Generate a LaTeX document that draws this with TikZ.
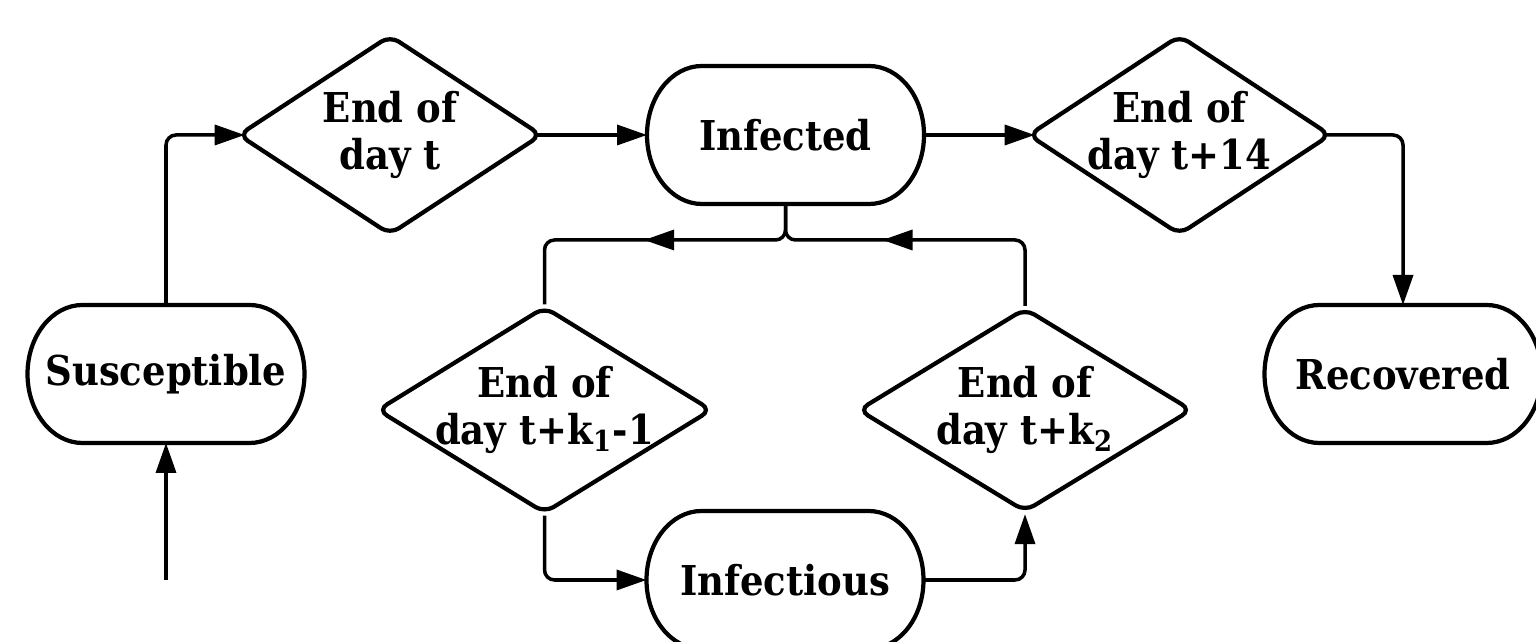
\documentclass[tikz,border=0pt]{standalone}
\usepackage{fontspec}
\setmainfont{DejaVu Serif Condensed}
\usetikzlibrary{shapes.geometric,arrows.meta,decorations.markings,calc}
\begin{document}
\begin{tikzpicture}[y=-1cm,>={Triangle[length=3mm,width=2mm]},
  state/.style={outer sep=0pt,minimum width=2.77cm,minimum height=1.38cm,font=\fontsize{11.7}{13.6}\selectfont\bfseries},
  box/.style={line width=1.2pt},
  check/.style={draw,diamond,line width=1.2pt,rounded corners=3pt,inner xsep=-0.25cm,inner ysep=-0.25cm,align=center,font=\fontsize{11.7}{13.6}\selectfont\bfseries},
  line/.style={line width=1pt,rounded corners=0.1cm},
  midarr/.style={postaction={decorate},decoration={markings,mark=at position #1 with {\arrow{>}}}}]
\useasboundingbox(0,0)rectangle(15.36,6.42);
% states
\node[state](sus)at(1.66,3.74){Susceptible};
\node[state](inf)at(7.855,1.35){Infected};
\node[state](rec)at(14.03,3.74){Recovered};
\node[state](infs)at(7.85,5.80){Infectious};
\foreach \n in {sus,inf,rec,infs}
  \draw[box](\n.north)--($(\n.north east)+(-0.55,0)$)
    arc[start angle=-90,end angle=90,x radius=0.55,y radius=0.69]--($(\n.south west)+(0.55,0)$)
    arc[start angle=90,end angle=270,x radius=0.55,y radius=0.69]--cycle;
% checks
\node[check,minimum width=3.04cm,minimum height=2.0cm](d1)at(3.90,1.35){End of\\day t};
\node[check,minimum width=3.03cm,minimum height=2.0cm](d14)at(11.795,1.35){End of\\day t+14};
\node[check,minimum width=3.35cm,minimum height=2.04cm](dk1)at(5.445,4.10){End of\\day t+k\textsubscript{1}-1};
\node[check,minimum width=3.34cm,minimum height=2.04cm](dk2)at(10.25,4.10){End of\\day t+k\textsubscript{2}};
\coordinate(src)at(1.66,5.80);%入口
\coordinate(j)at($(inf.south)+(0,0.36)$);%分岐
% arrows
\draw[line,->](src)--(sus);
\draw[line,->,shorten >=-2.5pt](sus.north)|-(d1.west);
\draw[line,->,shorten <=-2.5pt](d1)--(inf);
\draw[line,->,shorten >=-2.5pt](inf)--(d14);
\draw[line,->,shorten <=-2.5pt](d14.east)-|(rec.north);
\draw[line,midarr=1.73cm](inf.south)--(j)-|(dk1.north);
\draw[line,midarr=2.04cm](dk2.north)|-(j)--(inf.south);
\draw[line,->](dk1.south)|-(infs.west);
\draw[line,->](infs.east)-|(dk2.south);
\end{tikzpicture}
\end{document}
